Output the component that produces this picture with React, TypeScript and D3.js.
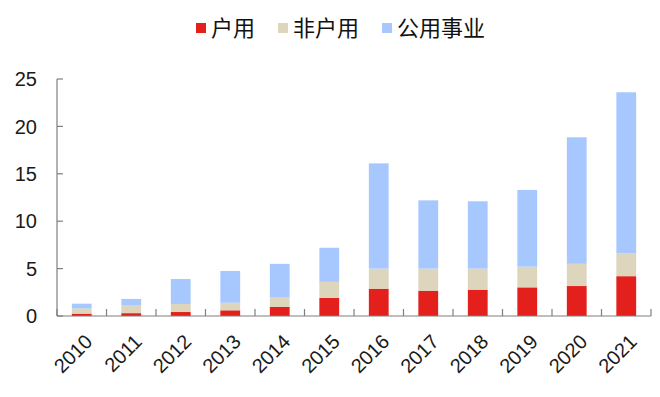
import React from "react";
import * as d3 from "d3";

const years = ["2010","2011","2012","2013","2014","2015","2016","2017","2018","2019","2020","2021"];
const household = [0.25,0.3,0.42,0.6,0.95,1.9,2.88,2.67,2.78,3.02,3.16,4.2];
const nonHousehold = [0.55,0.8,0.85,0.8,1.05,1.7,2.12,2.33,2.22,2.18,2.34,2.4];
const utility = [0.5,0.7,2.63,3.35,3.5,3.6,11.1,7.2,7.1,8.1,13.35,17.0];
const seriesNames = ["户用","非户用","公用事业"];
const colors = ["#e3201b","#ddd5bc","#a6c8ff"];
const yTicks = [0,5,10,15,20,25];

const W = 660, H = 397;
const margin = { left: 57, right: 9, top: 79, bottom: 81 };

export default function App() {
  const x = d3.scaleBand<string>().domain(years).range([margin.left, W - margin.right]).paddingInner(0.6).paddingOuter(0.3);
  const y = d3.scaleLinear().domain([0, 25]).range([H - margin.bottom, margin.top]);
  const rows = years.map((yr, i) => ({ year: yr, a: household[i], b: nonHousehold[i], c: utility[i] }));
  const stack = d3.stack<any>().keys(["a","b","c"])(rows);
  const step = x.step();
  const x0 = margin.left, x1 = W - margin.right, y0 = y(0);
  const font = "'Liberation Sans', Arial, sans-serif";
  const cjk = "'Noto Sans CJK SC', 'Liberation Sans', sans-serif";
  const legendX = [196, 278, 382];
  return (
    <svg width={W} height={H} style={{ position: "absolute", left: 0, top: 0, background: "#fff" }}>
      {stack.map((s, si) => (
        <g key={si} fill={colors[si]}>
          {s.map((d, i) => (
            <rect key={i} x={x(years[i])!} width={x.bandwidth()} y={y(d[1])} height={y(d[0]) - y(d[1])} />
          ))}
        </g>
      ))}
      {/* y axis */}
      <line x1={x0} x2={x0} y1={y(25)} y2={y0} stroke="#7f7f7f" strokeWidth={1.2} />
      {yTicks.map(t => (
        <g key={t}>
          <line x1={x0} x2={x0 + 6} y1={y(t)} y2={y(t)} stroke="#7f7f7f" strokeWidth={1.2} />
          <text x={37} y={y(t)} dy="0.36em" textAnchor="end" fontFamily={font} fontSize={20} fill="#1a1a1a">{t}</text>
        </g>
      ))}
      {/* x axis */}
      <line x1={x0} x2={x1} y1={y0} y2={y0} stroke="#7f7f7f" strokeWidth={1.2} />
      {d3.range(years.length + 1).map(k => (
        <line key={k} x1={x0 + k * step} x2={x0 + k * step} y1={y0} y2={y0 - 7} stroke="#7f7f7f" strokeWidth={1.2} />
      ))}
      {years.map(yr => {
        const cx = x(yr)! + x.bandwidth() / 2;
        return (
          <text key={yr} transform={`translate(${cx + 2},${y0 + 17}) rotate(-45)`} textAnchor="end" dy="0.7em" fontFamily={font} fontSize={20} fill="#1a1a1a">{yr}</text>
        );
      })}
      {/* legend */}
      {seriesNames.map((n, i) => (
        <g key={n}>
          <rect x={legendX[i]} y={23} width={10} height={10} fill={colors[i]} />
          <text x={legendX[i] + 15} y={28} dy="0.36em" fontFamily={cjk} fontSize={22} fill="#111">{n}</text>
        </g>
      ))}
    </svg>
  );
}
